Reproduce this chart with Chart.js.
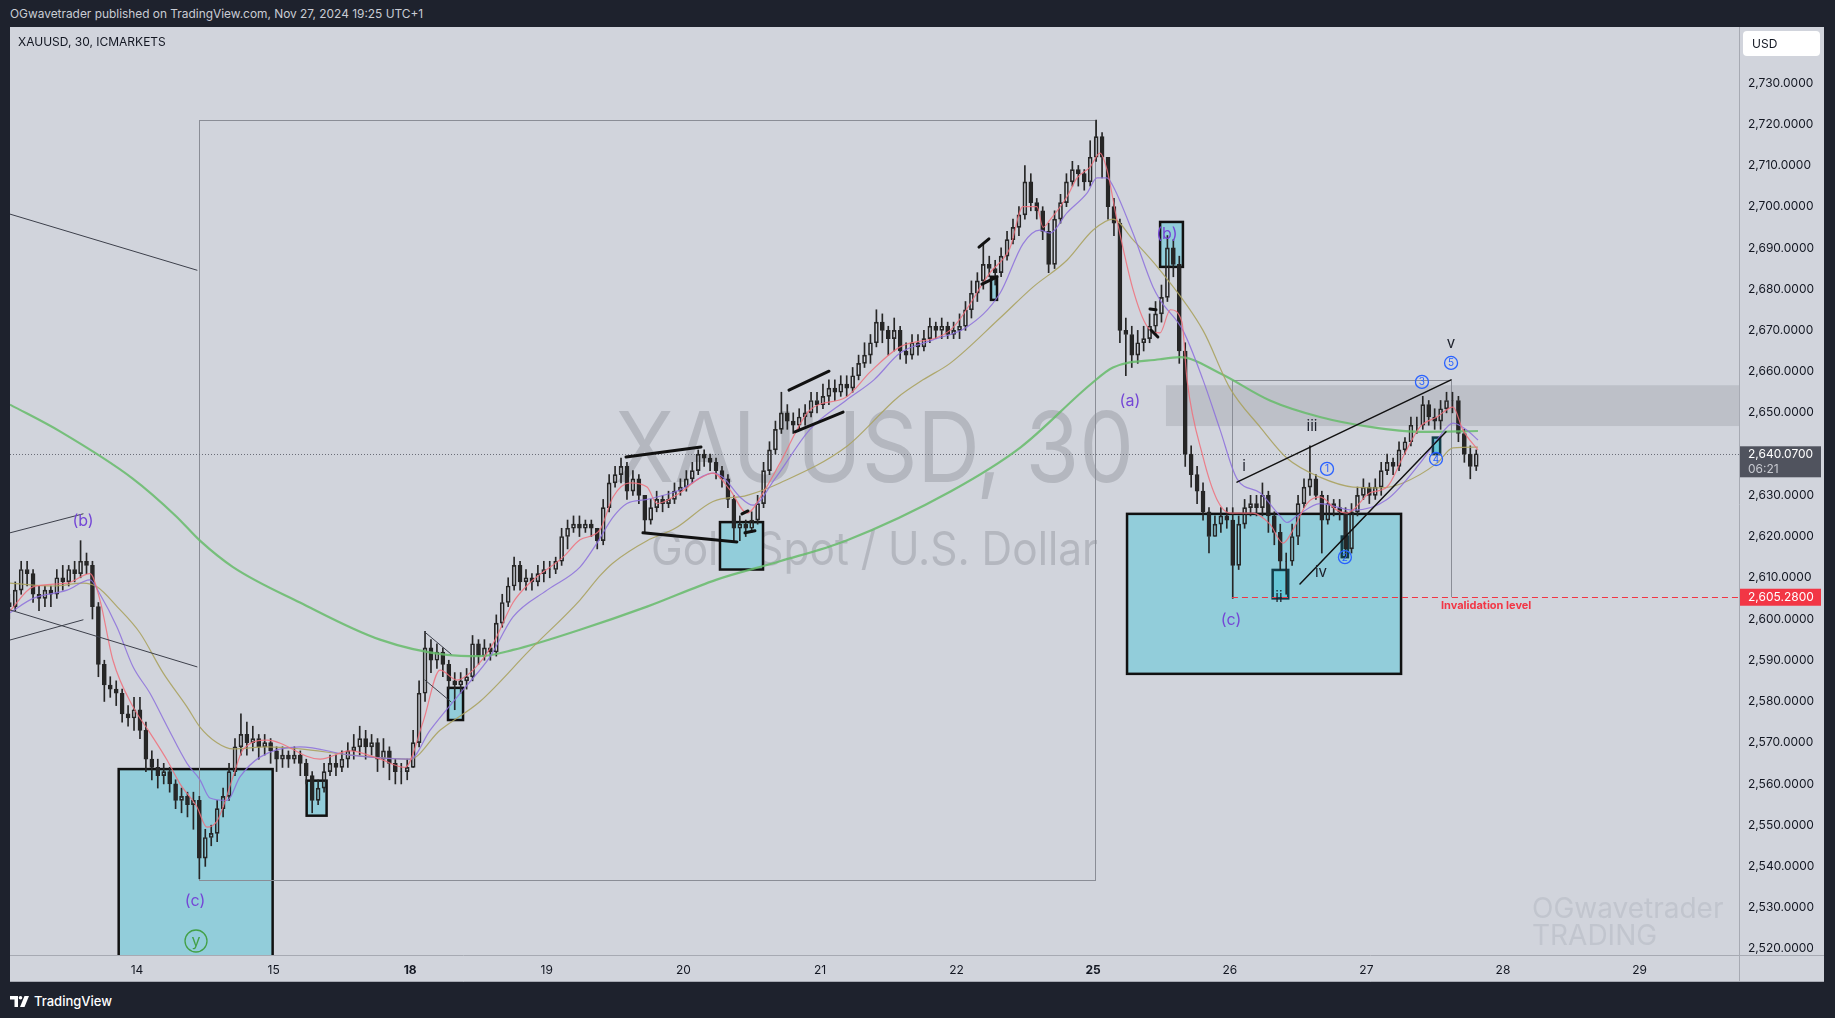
<!DOCTYPE html>
<html>
<head>
<meta charset="utf-8">
<script src="https://cdn.jsdelivr.net/npm/chart.js@4.4.1/dist/chart.umd.min.js"></script>
<style>
  html, body { margin: 0; padding: 0; background: #1e222d; width: 1835px; height: 1018px; overflow: hidden; font-family: Inter, "Noto Sans", sans-serif; }
  #header { position: absolute; left: 10px; top: 6px; font-size: 11.9px; line-height: 16px; color: #c9ccd4; }
  #wrap { position: absolute; left: 10px; top: 27px; width: 1814px; height: 955px; background: #d1d4dc; }
  #symbol { position: absolute; left: 18px; top: 35px; font-size: 12px; line-height: 14px; color: #131722; }
  #footer { position: absolute; left: 10px; top: 993px; font-size: 13px; line-height: 16px; color: #ffffff; font-weight: 500; display: flex; align-items: center; }
  #footer svg { margin-right: 4px; }
</style>
</head>
<body>
<div id="header">OGwavetrader published on TradingView.com, Nov 27, 2024 19:25 UTC+1</div>
<div id="wrap"><canvas id="chart" width="1814" height="955"></canvas></div>
<div id="symbol">XAUUSD, 30, ICMARKETS</div>
<div id="footer"><svg width="20" height="11" viewBox="0 0 20 11"><path d="M0 0H8V11H4.5V3.5H0Z" fill="#fff"/><circle cx="10.5" cy="1.8" r="1.8" fill="#fff"/><path d="M14.5 0H19L14.5 11H10Z" fill="#fff"/></svg>TradingView</div>
<script>
// x axis: trading day index (13 Nov = 0, 14 Nov = 1, ... weekends skipped)
const dayLabels = ['14', '15', '18', '19', '20', '21', '22', '25', '26', '27', '28', '29'];
const dayTickPos = [1, 2, 3, 4, 5, 6, 7, 8, 9, 10, 11, 12];
const weekStarts = ['18', '25'];
const priceTicks = [2520, 2530, 2540, 2550, 2560, 2570, 2580, 2590, 2600, 2610, 2620, 2630,
  2640, 2650, 2660, 2670, 2680, 2690, 2700, 2710, 2720, 2730];

// hourly candles, one session per day
const sessionBars = [22, 23, 23, 23, 23, 23, 23, 23, 23, 23, 19];
const sessionFirstBar = [1, 0, 0, 0, 0, 0, 0, 0, 0, 0, 0];
const barsPerSession = 23;
const firstOpen = 2604;

const closes = [
  // 13
  2603, 2607, 2612, 2611, 2606, 2605, 2607, 2606, 2610, 2609, 2612, 2611, 2614, 2613, 2603, 2589, 2584, 2583, 2582, 2577, 2576, 2578,
  // 14
  2573, 2566, 2564, 2562, 2563, 2560, 2556, 2557, 2555, 2556, 2542, 2547, 2548, 2554, 2557, 2563, 2569, 2572, 2570, 2571, 2569, 2570, 2568,
  // 15
  2566, 2567, 2566, 2567, 2565, 2562, 2556, 2559, 2563, 2565, 2564, 2566, 2568, 2569, 2571, 2569, 2570, 2566, 2568, 2565, 2563, 2563, 2564,
  // 18
  2570, 2582, 2593, 2590, 2592, 2589, 2585, 2584, 2585, 2586, 2594, 2591, 2593, 2592, 2599, 2604, 2608, 2613, 2609, 2610, 2609, 2611, 2612,
  // 19
  2612, 2614, 2620, 2622, 2623, 2622, 2623, 2622, 2619, 2627, 2633, 2635, 2637, 2631, 2634, 2630, 2624, 2627, 2629, 2628, 2629, 2631, 2632,
  // 20
  2634, 2636, 2640, 2639, 2638, 2636, 2634, 2629, 2622, 2623, 2622, 2624, 2628, 2636, 2641, 2646, 2650, 2648, 2647, 2649, 2650, 2653, 2652,
  // 21
  2654, 2656, 2655, 2657, 2656, 2659, 2662, 2664, 2667, 2672, 2670, 2668, 2670, 2665, 2664, 2667, 2666, 2668, 2671, 2670, 2671, 2669, 2670,
  // 22
  2671, 2675, 2679, 2682, 2686, 2685, 2684, 2688, 2692, 2695, 2698, 2706, 2701, 2699, 2694, 2686, 2697, 2701, 2706, 2709, 2708, 2706, 2712,
  // 25
  2717, 2712, 2700, 2696, 2670, 2669, 2664, 2667, 2668, 2671, 2674, 2678, 2690, 2686, 2665, 2640, 2635, 2631, 2626, 2620, 2623, 2625, 2624,
  // 26
  2613, 2623, 2627, 2628, 2627, 2630, 2625, 2621, 2614, 2614, 2620, 2628, 2632, 2634, 2630, 2624, 2628, 2627, 2626, 2617, 2626, 2630, 2632,
  // 27
  2630, 2632, 2636, 2638, 2637, 2641, 2643, 2647, 2647, 2652, 2649, 2648, 2651, 2653, 2653, 2645, 2640, 2637, 2640.07
];
const highs = [
  2606, 2609, 2614, 2614, 2612, 2608, 2608, 2608, 2612, 2613, 2613, 2614, 2619, 2616, 2614, 2604, 2590, 2586, 2585, 2583, 2579, 2581,
  2581, 2575, 2568, 2566, 2565, 2564, 2561, 2559, 2558, 2558, 2557, 2549, 2550, 2556, 2559, 2565, 2571, 2577, 2575, 2574, 2572, 2572, 2571,
  2569, 2569, 2568, 2569, 2568, 2566, 2563, 2561, 2565, 2567, 2567, 2568, 2570, 2572, 2574, 2573, 2572, 2571, 2571, 2569, 2566, 2565, 2566,
  2573, 2585, 2597, 2595, 2594, 2593, 2590, 2587, 2587, 2588, 2596, 2595, 2595, 2594, 2601, 2606, 2610, 2615, 2614, 2612, 2611, 2613, 2614,
  2614, 2615, 2622, 2624, 2625, 2625, 2624, 2624, 2622, 2629, 2635, 2637, 2639, 2638, 2636, 2635, 2630, 2629, 2631, 2630, 2631, 2633, 2634,
  2636, 2638, 2641, 2641, 2640, 2639, 2637, 2635, 2630, 2625, 2624, 2626, 2630, 2638, 2643, 2648, 2655, 2652, 2650, 2651, 2652, 2655, 2655,
  2657, 2658, 2658, 2659, 2659, 2661, 2664, 2667, 2669, 2675, 2674, 2671, 2673, 2671, 2667, 2669, 2669, 2670, 2673, 2672, 2673, 2672, 2672,
  2674, 2677, 2682, 2684, 2691, 2688, 2687, 2690, 2694, 2697, 2700, 2710, 2708, 2702, 2700, 2696, 2699, 2703, 2708, 2711, 2710, 2709, 2716,
  2721, 2718, 2712, 2702, 2697, 2673, 2671, 2670, 2671, 2674, 2677, 2681, 2693, 2692, 2688, 2667, 2642, 2637, 2633, 2627, 2625, 2627, 2627,
  2627, 2625, 2629, 2630, 2630, 2633, 2631, 2626, 2623, 2616, 2623, 2630, 2634, 2642, 2635, 2631, 2630, 2629, 2629, 2627, 2628, 2632, 2634,
  2633, 2634, 2638, 2640, 2639, 2643, 2644, 2649, 2649, 2654, 2653, 2651, 2653, 2655, 2655, 2654, 2646, 2642, 2641
];
const lows = [
  2600, 2602, 2606, 2608, 2604, 2602, 2603, 2603, 2605, 2607, 2608, 2609, 2610, 2611, 2600, 2586, 2580, 2581, 2579, 2575, 2574, 2573,
  2571, 2563, 2561, 2559, 2560, 2558, 2554, 2553, 2552, 2549, 2537, 2540, 2545, 2546, 2552, 2556, 2562, 2567, 2567, 2568, 2566, 2567, 2565,
  2563, 2564, 2564, 2565, 2562, 2560, 2553, 2555, 2558, 2562, 2562, 2563, 2564, 2566, 2567, 2566, 2567, 2563, 2564, 2561, 2560, 2560, 2561,
  2564, 2569, 2580, 2587, 2588, 2586, 2583, 2578, 2582, 2583, 2585, 2589, 2590, 2590, 2591, 2598, 2603, 2607, 2607, 2607, 2607, 2608, 2609,
  2610, 2611, 2613, 2617, 2621, 2620, 2621, 2620, 2617, 2618, 2626, 2632, 2633, 2629, 2630, 2628, 2621, 2623, 2626, 2626, 2627, 2628, 2630,
  2631, 2633, 2635, 2637, 2636, 2634, 2632, 2627, 2619, 2619, 2620, 2621, 2623, 2627, 2635, 2640, 2645, 2646, 2645, 2646, 2647, 2649, 2650,
  2651, 2652, 2653, 2654, 2654, 2655, 2658, 2661, 2662, 2666, 2667, 2664, 2665, 2663, 2662, 2663, 2664, 2665, 2667, 2668, 2668, 2668, 2668,
  2668, 2670, 2673, 2677, 2680, 2683, 2681, 2683, 2687, 2691, 2693, 2697, 2699, 2697, 2692, 2684, 2685, 2696, 2700, 2705, 2705, 2704, 2705,
  2711, 2707, 2697, 2693, 2667, 2659, 2661, 2662, 2665, 2667, 2669, 2672, 2677, 2683, 2662, 2637, 2632, 2628, 2624, 2616, 2620, 2621, 2622,
  2605, 2612, 2622, 2625, 2625, 2625, 2621, 2618, 2612, 2606, 2613, 2618, 2627, 2630, 2629, 2616, 2623, 2625, 2624, 2615, 2616, 2625, 2629,
  2628, 2629, 2630, 2635, 2635, 2636, 2640, 2642, 2645, 2646, 2647, 2646, 2646, 2650, 2650, 2643, 2638, 2634, 2636
];

// moving averages (x = day index)
const emaFastX = [0.07, 0.239, 0.488, 0.656, 0.729, 0.824, 0.971, 1.095, 1.22, 1.315, 1.439, 1.512, 1.586, 1.63, 1.703, 1.776, 1.952,
  2.34, 2.56, 2.78, 2.962, 3.094, 3.218, 3.343, 3.46, 3.606, 3.753, 3.877, 4.119, 4.243, 4.389, 4.485, 4.609, 4.734, 4.807, 4.975,
  5.1, 5.217, 5.341, 5.466, 5.583, 5.707, 5.927, 6.19, 6.37, 6.586, 6.952, 7.245, 7.391, 7.486, 7.588, 7.633, 7.684, 7.808, 7.882,
  7.977, 8.05, 8.101, 8.174, 8.291, 8.394, 8.489, 8.565, 8.65, 8.687, 8.804, 8.906, 9.001, 9.17, 9.294, 9.39, 9.463, 9.565, 9.66,
  9.785, 9.858, 10.027, 10.151, 10.268, 10.393, 10.517, 10.634, 10.707, 10.817];
const emaFast = [2602, 2607.8, 2608.7, 2611, 2604.6, 2590, 2578.7, 2572.4, 2565.8, 2560, 2554.4, 2549.5, 2551, 2554.4, 2561.7, 2568.3, 2570.6,
  2566, 2568, 2566, 2564, 2575, 2587.6, 2585.2, 2587.6, 2594, 2604, 2608.8, 2615, 2619.2, 2621.6, 2629.6, 2633, 2632, 2628, 2630.6,
  2633.7, 2635.4, 2631.3, 2625.7, 2630.6, 2637.8, 2650.7, 2653.8, 2660, 2666, 2670, 2684, 2690, 2700, 2700, 2695, 2696.8, 2702.4, 2707,
  2709.6, 2713, 2709, 2696.8, 2680, 2671, 2669.4, 2675, 2672, 2658, 2639.3, 2629, 2625.7, 2625.7, 2623, 2618.4, 2621.6, 2628, 2629.6,
  2626.4, 2625.7, 2630.6, 2632, 2639.3, 2646.6, 2649, 2651.4, 2645.8, 2641];

const emaMidX = [0.07, 0.239, 0.488, 0.656, 0.729, 0.854, 0.971, 1.095, 1.22, 1.366, 1.461, 1.534, 1.659, 1.754, 1.9, 2.193, 2.56, 3.0,
  3.145, 3.387, 3.584, 3.753, 4.002, 4.243, 4.367, 4.485, 4.587, 4.734, 4.975, 5.217, 5.29, 5.414, 5.51, 5.67, 5.927, 6.19, 6.395,
  6.586, 6.827, 7.076, 7.318, 7.486, 7.61, 7.684, 7.808, 7.955, 8.028, 8.101, 8.145, 8.291, 8.438, 8.489, 8.657, 8.804, 8.928, 9.053,
  9.221, 9.368, 9.419, 9.492, 9.66, 9.902, 10.151, 10.393, 10.517, 10.634, 10.737, 10.817];
const emaMid = [2601.5, 2605, 2607, 2609.5, 2606, 2598, 2588.4, 2582, 2574, 2565, 2561, 2556.6, 2556, 2561.7, 2566.5, 2569, 2567, 2566,
  2573, 2582.8, 2590.8, 2600.5, 2607, 2612.6, 2618.4, 2624.7, 2628, 2629, 2631.3, 2635.4, 2634.4, 2629.6, 2627.6, 2634, 2646, 2653, 2658,
  2664.5, 2667.7, 2670.8, 2679, 2691, 2694.3, 2693.6, 2698.5, 2703.3, 2707, 2707, 2705, 2693.6, 2680.5, 2677.4, 2670, 2658, 2646, 2634,
  2630.6, 2625, 2623.4, 2625, 2628, 2626.4, 2629, 2637.8, 2643.4, 2647.5, 2645.8, 2643.4];

const emaSlowX = [0.07, 0.385, 0.605, 0.707, 0.854, 1.022, 1.19, 1.366, 1.461, 1.586, 1.703, 1.952, 2.193, 2.567, 2.998, 3.218, 3.511,
  3.877, 4.243, 4.39, 4.485, 4.734, 4.94, 5.217, 5.466, 5.707, 6.19, 6.571, 6.754, 6.952, 7.318, 7.559, 7.808, 7.998, 8.145, 8.291,
  8.489, 8.804, 9.001, 9.221, 9.419, 9.66, 9.902, 10.1, 10.268, 10.517, 10.634, 10.817];
const emaSlow = [2608.7, 2608, 2608.7, 2607.8, 2603, 2596.6, 2587, 2578.7, 2573.8, 2570, 2568.5, 2569, 2568.5, 2567, 2566, 2573, 2580,
  2592.5, 2604.6, 2610.5, 2613.6, 2619, 2622, 2628.5, 2630, 2633, 2641.7, 2653.8, 2658, 2662, 2673, 2680.5, 2687, 2694.3, 2697, 2692,
  2684.6, 2670, 2656, 2646.6, 2639, 2634.4, 2632, 2631.8, 2633, 2637.8, 2641.5, 2641.7];

const ema200X = [0.07, 0.436, 0.971, 1.284, 1.461, 1.703, 2.193, 2.779, 3.269, 3.511, 3.753, 4.243, 4.734, 5.239, 5.707, 6.19, 6.959,
  7.471, 7.984, 8.145, 8.489, 8.635, 8.928, 9.294, 9.66, 10.027, 10.393, 10.817];
const ema200 = [2652, 2645.5, 2634, 2625, 2619, 2612.6, 2604, 2595, 2591.3, 2591, 2592.5, 2597.4, 2603, 2609.5, 2614, 2619, 2631,
  2641.7, 2657, 2661, 2663, 2663.5, 2659.6, 2653, 2649, 2646.6, 2645.4, 2645.6];

// drawings: [x1, x2, priceLow, priceHigh]
const cyanBoxes = [[0.866, 1.993, 2505, 2563.6], [2.242, 2.388, 2552.3, 2560.8], [3.277, 3.387, 2575.5, 2583.3],
  [5.268, 5.583, 2612, 2623.5], [7.252, 7.296, 2677.4, 2683], [8.49, 8.657, 2685.4, 2696.3], [8.248, 10.254, 2586.7, 2625.5]];
const tealBoxes = [[9.314, 9.428, 2605, 2611.9], [9.82, 9.865, 2615, 2620], [10.487, 10.54, 2640, 2644]];
const rangeBox = [1.455, 8.013, 2536.7, 2721];
const waveBox = [9.016, 10.62, 2605.28, 2658];
const resistanceZone = [8.533, 2646.8, 2656.7];
const lastPrice = 2640.07;
const countdown = '06:21';
const invalidation = 2605.28;
const invalidationStart = 9.016;

// segments: [x1, price1, x2, price2]
const thinLines = [[0.07, 2698.2, 1.439, 2684.6], [0.07, 2620.9, 0.605, 2625.5], [0.07, 2602.2, 1.439, 2588.4],
  [0.07, 2594.9, 0.605, 2599.8], [3.108, 2596.8, 3.299, 2591.5], [3.108, 2585.2, 3.299, 2579.9]];
const thickLines = [[4.58, 2639.3, 5.129, 2641.7], [4.704, 2620.9, 5.392, 2618.7], [5.429, 2625.5, 5.473, 2626.2],
  [5.451, 2620.9, 5.524, 2621.4], [5.773, 2655.5, 6.066, 2660.1], [5.817, 2645.4, 6.169, 2650.2],
  [7.164, 2690.2, 7.237, 2692.2], [7.186, 2681.2, 7.296, 2683], [8.416, 2675.2, 8.46, 2675], [8.423, 2670.1, 8.474, 2668.4]];
const waveLines = [[9.053, 2633.2, 10.62, 2658], [9.514, 2608.5, 10.583, 2645.4]];

// labels: [text, x, price]
const majorLabels = [['(b)', 0.605, 2623.8], ['(c)', 1.425, 2531.6], ['(a)', 8.269, 2652.9], ['(b)', 8.54, 2693.4], ['(c)', 9.009, 2599.8]];
const minorLabels = [['i', 9.104, 2637.1], ['ii', 9.36, 2605.3], ['iii', 9.602, 2646.6], ['iv', 9.668, 2611.4], ['v', 10.62, 2666.9]];
const circledLabels = [['1', 9.712, 2636.4], ['2', 9.843, 2615], ['3', 10.407, 2657.5], ['4', 10.51, 2638.8], ['5', 10.62, 2662.1]];
const cycleLabel = ['y', 1.432, 2521.9];

const barX = [];
sessionBars.forEach((n, d) => {
  for (let k = 0; k < n; k++) barX.push(d + (sessionFirstBar[d] + k + 0.5) / barsPerSession);
});
const opens = closes.map((c, i) => i === 0 ? firstOpen : closes[i - 1]);

const candleColor = '#262626';
const FONT = 'Inter, Roboto, "Noto Sans", sans-serif';

function pts(xs, ys) { return xs.map((x, i) => ({ x, y: ys[i] })); }
function maLine(xs, ys, color, width) {
  return { type: 'line', data: pts(xs, ys), borderColor: color, borderWidth: width, pointRadius: 0,
    cubicInterpolationMode: 'monotone', fill: false, order: 0 };
}

const decor = {
  id: 'decor',
  beforeDatasetsDraw(chart) {
    const { ctx, chartArea: a, scales: { x, y } } = chart;
    ctx.save();
    ctx.beginPath();
    ctx.rect(a.left, a.top, a.right - a.left, a.bottom - a.top);
    ctx.clip();

    const cx = (a.left + a.right) / 2, cy = (a.top + a.bottom) / 2;
    ctx.fillStyle = 'rgba(120,123,134,0.33)';
    ctx.textAlign = 'center';
    ctx.textBaseline = 'alphabetic';
    ctx.font = '97px ' + FONT;
    ctx.fillText('XAUUSD, 30', cx, cy - 9, 519);
    ctx.font = '46px ' + FONT;
    ctx.fillText('Gold Spot / U.S. Dollar', cx, cy + 74, 447);
    ctx.fillStyle = 'rgba(120,123,134,0.17)';
    ctx.textAlign = 'left';
    ctx.font = '28px ' + FONT;
    ctx.fillText('OGwavetrader', a.right - 207, a.bottom - 37);
    ctx.fillText('TRADING', a.right - 207, a.bottom - 10);

    // resistance zone
    const zx = x.getPixelForValue(resistanceZone[0]);
    const zt = y.getPixelForValue(resistanceZone[2]), zb = y.getPixelForValue(resistanceZone[1]);
    ctx.fillStyle = 'rgba(120,123,134,0.22)';
    ctx.fillRect(zx, zt, a.right - zx, zb - zt);

    // boxes
    function box(b, fill, stroke, lw) {
      const x1 = x.getPixelForValue(b[0]), x2 = x.getPixelForValue(b[1]);
      const y1 = y.getPixelForValue(b[3]), y2 = y.getPixelForValue(b[2]);
      ctx.fillStyle = fill;
      ctx.fillRect(x1, y1, x2 - x1, y2 - y1);
      ctx.strokeStyle = stroke;
      ctx.lineWidth = lw;
      ctx.strokeRect(x1, y1, x2 - x1, y2 - y1);
    }
    cyanBoxes.forEach(b => box(b, '#92cdda', '#111111', 2.5));
    tealBoxes.forEach(b => box(b, '#66c6d6', '#123c48', 2.5));

    // range rectangles (outline only)
    ctx.strokeStyle = '#8a8d96';
    ctx.lineWidth = 1;
    let x1 = x.getPixelForValue(rangeBox[0]), x2 = x.getPixelForValue(rangeBox[1]);
    let y1 = y.getPixelForValue(rangeBox[3]), y2 = y.getPixelForValue(rangeBox[2]);
    ctx.strokeRect(Math.round(x1) + 0.5, Math.round(y1) + 0.5, Math.round(x2 - x1), Math.round(y2 - y1));
    x1 = x.getPixelForValue(waveBox[0]); x2 = x.getPixelForValue(waveBox[1]);
    y1 = y.getPixelForValue(waveBox[3]); y2 = y.getPixelForValue(waveBox[2]);
    ctx.beginPath();
    ctx.moveTo(Math.round(x1) + 0.5, y2);
    ctx.lineTo(Math.round(x1) + 0.5, Math.round(y1) + 0.5);
    ctx.lineTo(Math.round(x2) + 0.5, Math.round(y1) + 0.5);
    ctx.lineTo(Math.round(x2) + 0.5, y2);
    ctx.stroke();

    // last price dotted line
    const lp = Math.round(y.getPixelForValue(lastPrice)) + 0.5;
    ctx.strokeStyle = '#6a6d78';
    ctx.setLineDash([1, 2]);
    ctx.beginPath();
    ctx.moveTo(a.left, lp);
    ctx.lineTo(a.right, lp);
    ctx.stroke();
    ctx.setLineDash([]);
    ctx.restore();
  },
  afterDatasetsDraw(chart) {
    const { ctx, chartArea: a, scales: { x, y } } = chart;
    ctx.save();
    ctx.beginPath();
    ctx.rect(a.left, a.top, a.right - a.left, a.bottom - a.top);
    ctx.clip();

    // invalidation dashed line
    const iy = Math.round(y.getPixelForValue(invalidation)) + 0.5;
    ctx.strokeStyle = '#f23645';
    ctx.lineWidth = 1;
    ctx.setLineDash([6, 4]);
    ctx.beginPath();
    ctx.moveTo(x.getPixelForValue(invalidationStart), iy);
    ctx.lineTo(a.right, iy);
    ctx.stroke();
    ctx.setLineDash([]);

    function seg(s, color, lw) {
      ctx.strokeStyle = color;
      ctx.lineWidth = lw;
      ctx.lineCap = 'round';
      ctx.beginPath();
      ctx.moveTo(x.getPixelForValue(s[0]), y.getPixelForValue(s[1]));
      ctx.lineTo(x.getPixelForValue(s[2]), y.getPixelForValue(s[3]));
      ctx.stroke();
    }
    thinLines.forEach(s => seg(s, '#3c3f4a', 1));
    thickLines.forEach(s => seg(s, '#111111', 3));
    waveLines.forEach(s => seg(s, '#111111', 1.5));

    ctx.textAlign = 'center';
    ctx.textBaseline = 'middle';
    ctx.font = '16px ' + FONT;
    ctx.fillStyle = '#7446d6';
    majorLabels.forEach(l => ctx.fillText(l[0], x.getPixelForValue(l[1]), y.getPixelForValue(l[2])));
    ctx.font = '15px ' + FONT;
    ctx.fillStyle = '#1c1f2a';
    minorLabels.forEach(l => ctx.fillText(l[0], x.getPixelForValue(l[1]), y.getPixelForValue(l[2])));

    function circled(l, r, color, size) {
      const px = x.getPixelForValue(l[1]), py = y.getPixelForValue(l[2]);
      ctx.beginPath();
      ctx.arc(px, py, r, 0, Math.PI * 2);
      ctx.strokeStyle = color;
      ctx.lineWidth = 1.3;
      ctx.stroke();
      ctx.fillStyle = color;
      ctx.font = size + 'px ' + FONT;
      ctx.fillText(l[0], px, py + 0.5);
    }
    circledLabels.forEach(l => circled(l, 6.5, '#2962ff', 10));
    circled(cycleLabel, 11, '#43a047', 16);

    ctx.textAlign = 'left';
    ctx.font = 'bold 11px ' + FONT;
    ctx.fillStyle = '#f23645';
    ctx.fillText('Invalidation level', x.getPixelForValue(10.546), y.getPixelForValue(2603.2));
    ctx.restore();
  },
  afterDraw(chart) {
    const { ctx, chartArea: a, scales: { y }, width, height } = chart;
    ctx.save();
    ctx.strokeStyle = '#a7aab3';
    ctx.lineWidth = 1;
    ctx.beginPath();
    ctx.moveTo(a.right + 0.5, 0); ctx.lineTo(a.right + 0.5, height);
    ctx.moveTo(0, a.bottom + 0.5); ctx.lineTo(width, a.bottom + 0.5);
    ctx.moveTo(0, height - 0.5); ctx.lineTo(width, height - 0.5);
    ctx.stroke();

    const tagX = a.right + 1, tagW = 81;
    ctx.textAlign = 'left';
    ctx.textBaseline = 'middle';
    // last price tag
    const lp = y.getPixelForValue(lastPrice);
    ctx.fillStyle = '#50535e';
    ctx.fillRect(tagX, lp - 7.5, tagW, 31);
    ctx.fillStyle = '#ffffff';
    ctx.font = '12px ' + FONT;
    ctx.fillText(lastPrice.toLocaleString('en-US', { minimumFractionDigits: 4 }), a.right + 9, lp + 0.5);
    ctx.fillStyle = '#c8cad1';
    ctx.fillText(countdown, a.right + 9, lp + 15.5);
    // invalidation tag
    const ip = y.getPixelForValue(invalidation);
    ctx.fillStyle = '#f23645';
    ctx.fillRect(tagX, ip - 8.5, tagW, 17);
    ctx.fillStyle = '#ffffff';
    ctx.fillText(invalidation.toLocaleString('en-US', { minimumFractionDigits: 4 }), a.right + 9, ip + 0.5);
    // currency button
    ctx.fillStyle = '#ffffff';
    ctx.beginPath();
    ctx.roundRect(a.right + 4, 4, 77, 25, 4);
    ctx.fill();
    ctx.fillStyle = '#131722';
    ctx.font = '12px ' + FONT;
    ctx.fillText('USD', a.right + 13, 17);
    ctx.restore();
  }
};

new Chart(document.getElementById('chart').getContext('2d'), {
  type: 'bar',
  data: {
    datasets: [
      maLine(emaFastX, emaFast, 'rgba(240,110,122,0.85)', 1.2),
      maLine(emaMidX, emaMid, 'rgba(140,110,220,0.85)', 1.2),
      maLine(emaSlowX, emaSlow, 'rgba(170,162,95,0.9)', 1.2),
      maLine(ema200X, ema200, 'rgba(102,187,106,0.85)', 2.2),
      {
        data: barX.map((x, i) => ({ x, y: [opens[i], closes[i]] })),
        backgroundColor: closes.map((c, i) => c >= opens[i] ? 'rgba(0,0,0,0)' : candleColor),
        borderColor: candleColor, borderWidth: 1, borderSkipped: false,
        barThickness: 4, grouped: false, order: 1
      },
      {
        data: barX.map((x, i) => ({ x, y: [Math.max(opens[i], closes[i]), highs[i]] })),
        backgroundColor: candleColor, borderWidth: 0, barThickness: 1, grouped: false, order: 2
      },
      {
        data: barX.map((x, i) => ({ x, y: [lows[i], Math.min(opens[i], closes[i])] })),
        backgroundColor: candleColor, borderWidth: 0, barThickness: 1, grouped: false, order: 2
      }
    ]
  },
  options: {
    responsive: false,
    devicePixelRatio: 1,
    animation: false,
    layout: { padding: 0 },
    plugins: { legend: { display: false }, tooltip: { enabled: false } },
    scales: {
      x: {
        type: 'linear', min: 0.0703, max: 12.728, offset: false,
        grid: { display: false, drawTicks: false, offset: false }, border: { display: false },
        afterBuildTicks: s => { s.ticks = dayTickPos.map(v => ({ value: v })); },
        afterFit: s => { s.height = 27; s.paddingLeft = 0; s.paddingRight = 0; },
        ticks: {
          autoSkip: false, maxRotation: 0, padding: 8, color: '#131722',
          callback: (v, i) => dayLabels[i],
          font: c => ({ family: FONT, size: 12, weight: weekStarts.includes(dayLabels[c.index]) ? 'bold' : 'normal' })
        }
      },
      y: {
        type: 'linear', position: 'right', min: 2518.51, max: 2743.58,
        grid: { display: false, drawTicks: false }, border: { display: false },
        afterBuildTicks: s => { s.ticks = priceTicks.map(v => ({ value: v })); },
        afterFit: s => { s.width = 85; s.paddingTop = 0; s.paddingBottom = 0; },
        ticks: {
          autoSkip: false, padding: 9, color: '#131722', font: { family: FONT, size: 12 },
          callback: v => v.toLocaleString('en-US', { minimumFractionDigits: 4, maximumFractionDigits: 4 })
        }
      }
    }
  },
  plugins: [decor]
});
</script>
</body>
</html>
